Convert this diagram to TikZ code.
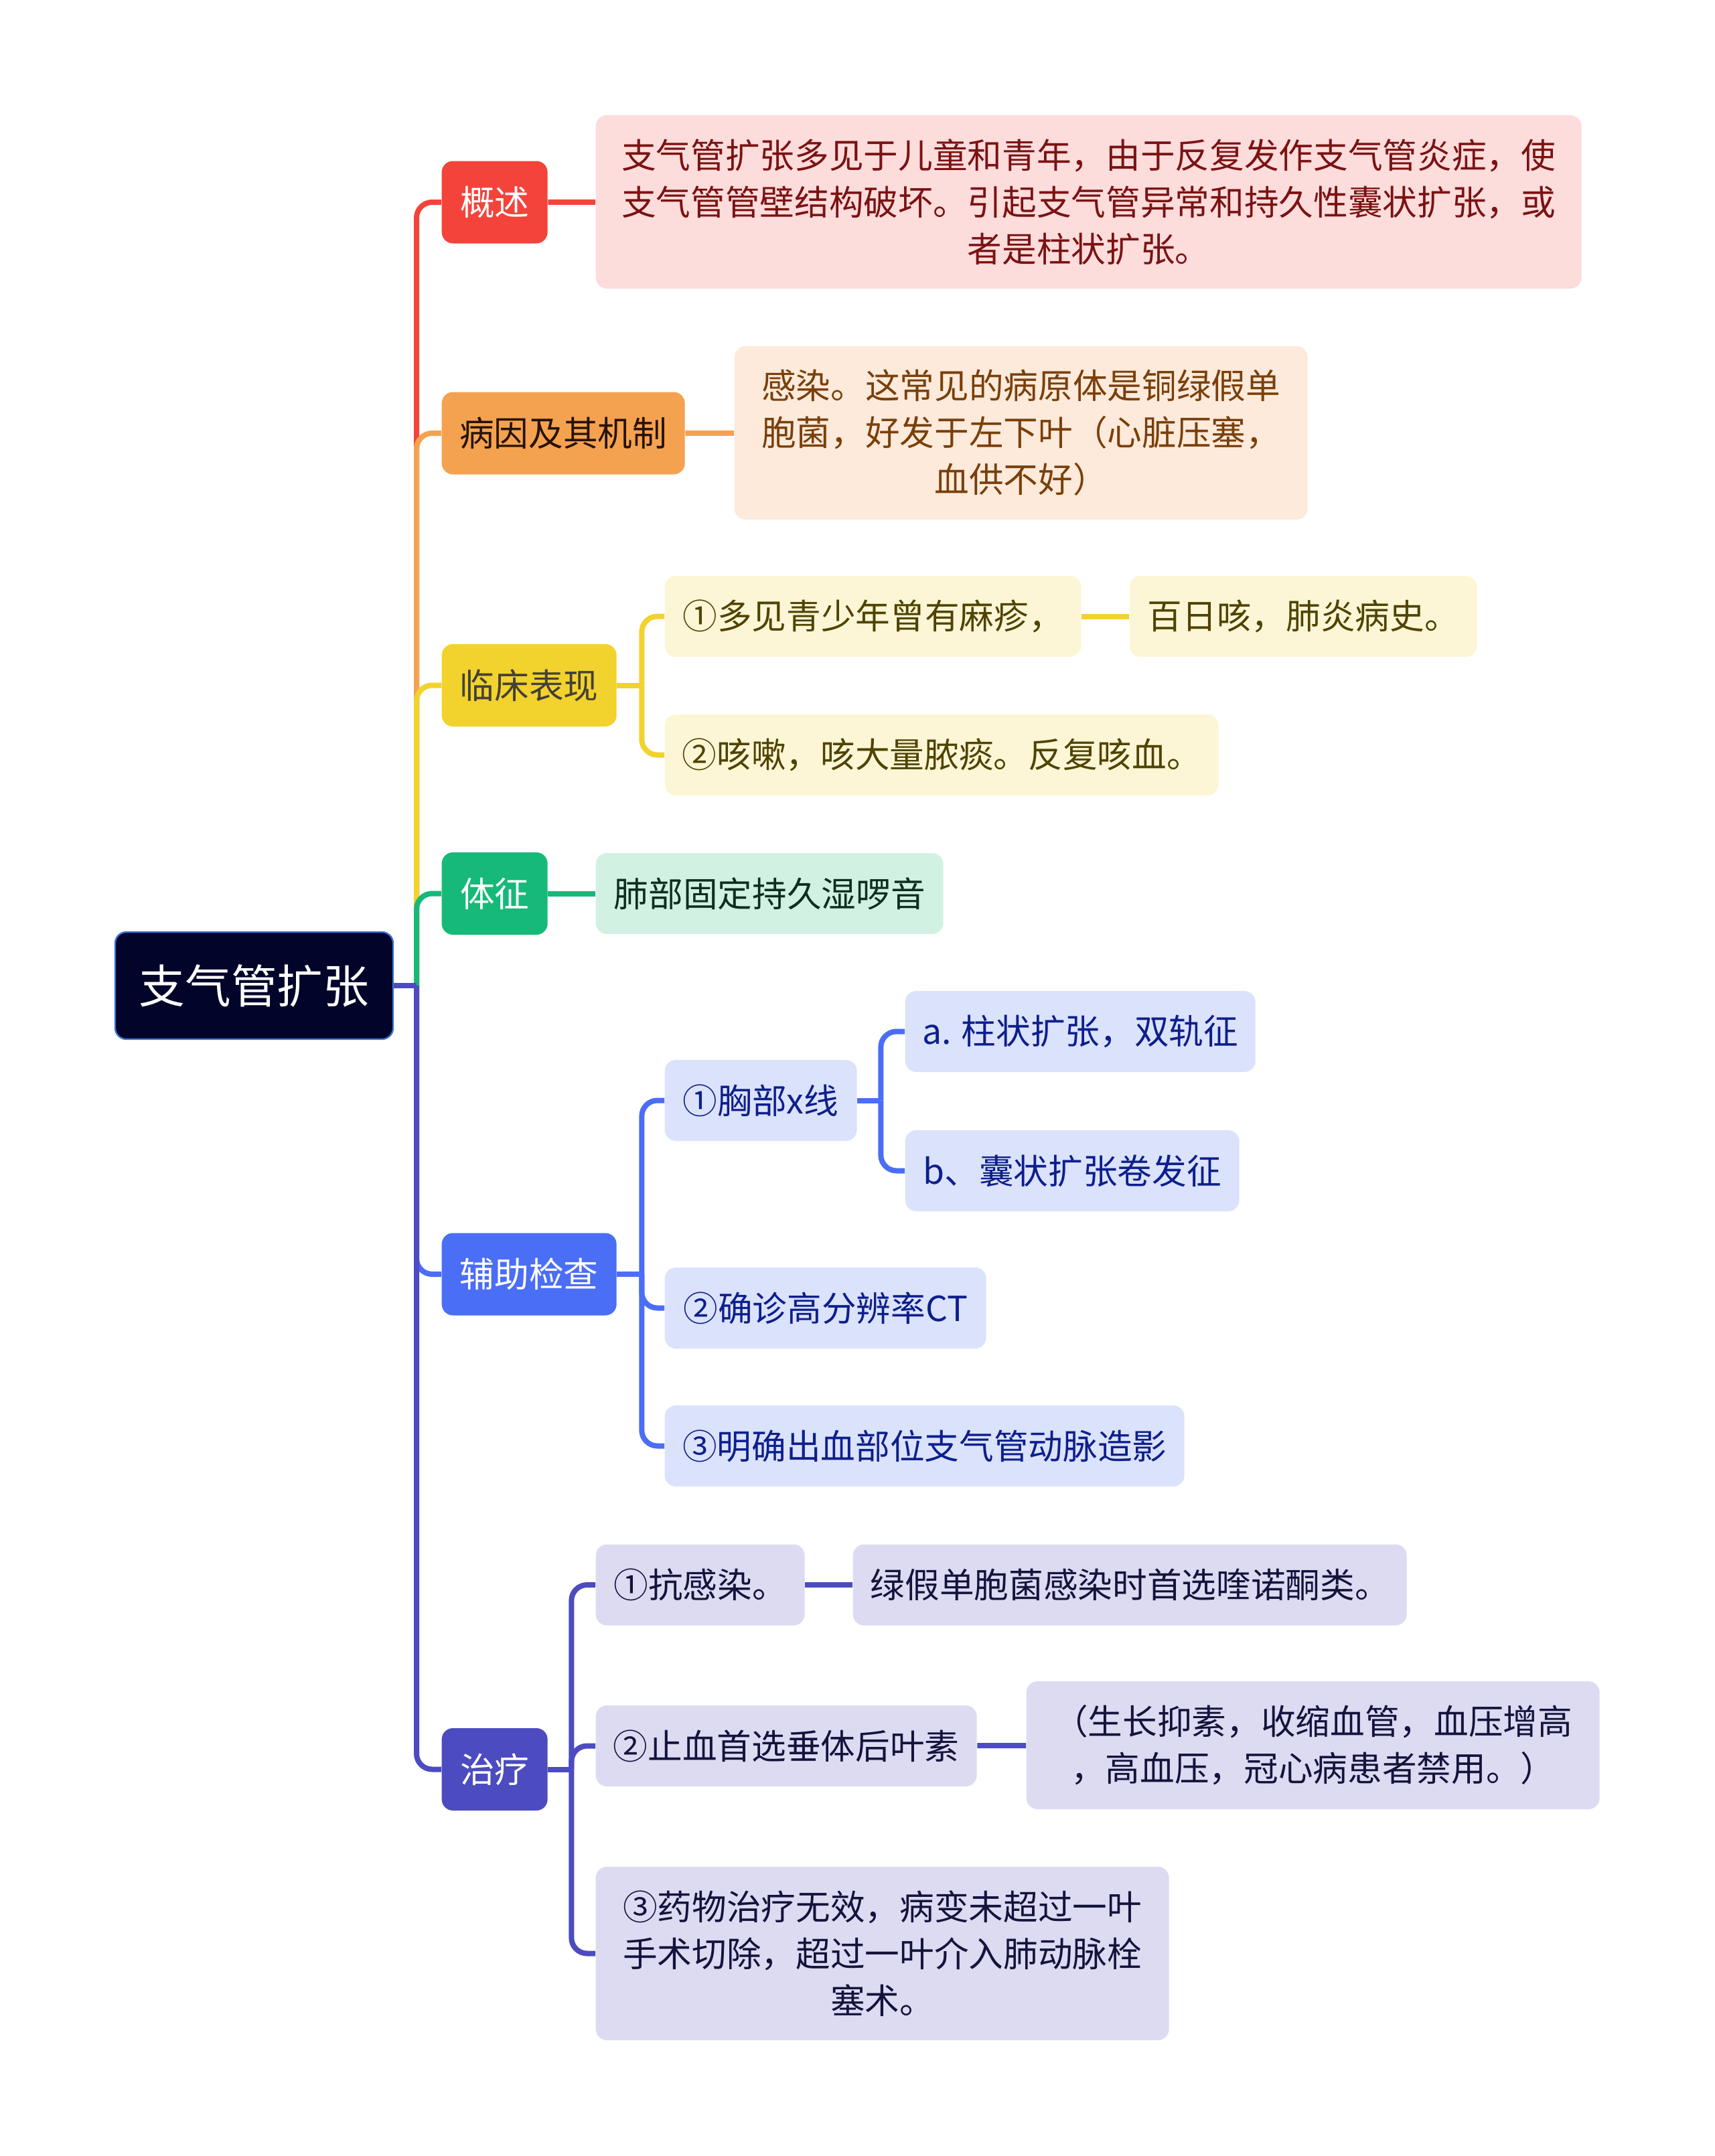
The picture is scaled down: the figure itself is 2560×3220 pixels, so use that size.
\documentclass[tikz,border=0pt]{standalone}
\usepackage{fontspec}
\usetikzlibrary{positioning,calc}
\newfontfamily\cjk{Noto Sans CJK SC}
\definecolor{rootfill}{HTML}{02042A}
\definecolor{rootline}{HTML}{3C73D6}
\definecolor{cred}{HTML}{F4433B}
\definecolor{lred}{HTML}{FDDCDC}
\definecolor{tred}{HTML}{7B1212}
\definecolor{corange}{HTML}{F5A250}
\definecolor{lorange}{HTML}{FDEADB}
\definecolor{torange}{HTML}{7A3F0A}
\definecolor{cyellow}{HTML}{F2D22C}
\definecolor{lyellow}{HTML}{FDF6D6}
\definecolor{tyellow}{HTML}{4F4300}
\definecolor{cgreen}{HTML}{16B978}
\definecolor{lgreen}{HTML}{D1F2E3}
\definecolor{tgreen}{HTML}{0F2E20}
\definecolor{cblue}{HTML}{4B6EF6}
\definecolor{lblue}{HTML}{DBE2FB}
\definecolor{tblue}{HTML}{0D1F8C}
\definecolor{cindigo}{HTML}{4C4BC0}
\definecolor{lindigo}{HTML}{DCDBF2}
\definecolor{tindigo}{HTML}{14133C}
\tikzset{
rootbox/.style={draw=rootline,line width=0.7pt,fill=rootfill,text=white,rounded corners=5pt,minimum width=124.5pt,minimum height=48pt,inner sep=0pt,font={\cjk\fontsize{20.6}{24}\selectfont}},
topic/.style={rounded corners=5pt,minimum height=36.9pt,inner sep=0pt,anchor=west,font={\cjk\fontsize{15.5}{21}\selectfont}},
leaf/.style={rounded corners=5pt,minimum height=36.3pt,inner sep=0pt,anchor=west,align=center,font={\cjk\fontsize{15.5}{21}\selectfont}},
link/.style={line width=2.4pt,rounded corners=7pt}
}
\begin{document}
\begin{tikzpicture}[x=0.3pt,y=-0.3pt]
\useasboundingbox (0,0) rectangle (2560,3220);
\node[rootbox](root) at (379.5,1472){支气管扩张};
\coordinate (hub) at (622,1472);
\node[topic,fill=cred,text=white,minimum width=47.4pt](gaishu) at (659,302){概述};
\node[topic,fill=corange,text=black!85!orange,minimum width=108.9pt](bingyin) at (659,647){病因及其机制};
\node[topic,fill=cyellow,text=black!85!yellow,minimum width=78.3pt](linchuang) at (659,1023.5){临床表现};
\node[topic,fill=cgreen,text=white,minimum width=47.4pt](tizheng) at (659,1334.5){体征};
\node[topic,fill=cblue,text=white,minimum width=78.3pt](fuzhu) at (659,1903){辅助检查};
\node[topic,fill=cindigo,text=white,minimum width=47.4pt](zhiliao) at (659,2642.5){治疗};
\node[leaf,fill=lred,text=tred,minimum width=441.6pt,minimum height=77.7pt](gsText) at (889,301.5){支气管扩张多见于儿童和青年，由于反复发作支气管炎症，使\\支气管管壁结构破坏。引起支气管异常和持久性囊状扩张，或\\者是柱状扩张。};
\node[leaf,fill=lorange,text=torange,minimum width=256.8pt,minimum height=77.7pt](byText) at (1096,646.5){感染。这常见的病原体是铜绿假单\\胞菌，好发于左下叶（心脏压塞，\\血供不好）};
\node[leaf,fill=lyellow,text=tyellow,minimum width=186.6pt](lcOne) at (992,920.5){①多见青少年曾有麻疹，};
\node[leaf,fill=lyellow,text=tyellow,minimum width=155.7pt](lcOneA) at (1686,920.5){百日咳，肺炎病史。};
\node[leaf,fill=lyellow,text=tyellow,minimum width=248.1pt](lcTwo) at (992,1127.5){②咳嗽，咳大量脓痰。反复咳血。};
\node[leaf,fill=lgreen,text=tgreen,minimum width=155.7pt](tzOne) at (889,1334.5){肺部固定持久湿啰音};
\node[leaf,fill=lblue,text=tblue,minimum width=86.1pt](fzOne) at (992,1643.5){①胸部x线};
\node[leaf,fill=lblue,text=tblue,minimum width=156.9pt](fzOneA) at (1351,1540.5){a. 柱状扩张，双轨征};
\node[leaf,fill=lblue,text=tblue,minimum width=149.7pt](fzOneB) at (1351,1748.5){b、囊状扩张卷发征};
\node[leaf,fill=lblue,text=tblue,minimum width=144pt](fzTwo) at (992,1953.5){②确诊高分辨率CT};
\node[leaf,fill=lblue,text=tblue,minimum width=232.8pt](fzThree) at (992,2159.5){③明确出血部位支气管动脉造影};
\node[leaf,fill=lindigo,text=tindigo,minimum width=93.6pt](zlOne) at (889,2367){①抗感染。};
\node[leaf,fill=lindigo,text=tindigo,minimum width=248.1pt](zlOneA) at (1273,2367){绿假单胞菌感染时首选喹诺酮类。};
\node[leaf,fill=lindigo,text=tindigo,minimum width=170.7pt](zlTwo) at (889,2607.5){②止血首选垂体后叶素};
\node[leaf,fill=lindigo,text=tindigo,minimum width=256.8pt,minimum height=57.3pt](zlTwoA) at (1532,2606.5){（生长抑素，收缩血管，血压增高\\，高血压，冠心病患者禁用。）};
\node[leaf,fill=lindigo,text=tindigo,minimum width=256.8pt,minimum height=77.7pt](zlThree) at (889,2917.5){③药物治疗无效，病变未超过一叶\\手术切除，超过一叶介入肺动脉栓\\塞术。};
\draw[link,cred](hub)|-(gaishu.west);\draw[link,corange](hub)|-(bingyin.west);\draw[link,cyellow](hub)|-(linchuang.west);\draw[link,cgreen](hub)|-(tizheng.west);
\draw[link,cblue](hub)|-(fuzhu.west);\draw[link,cindigo](hub)|-(zhiliao.west);\draw[link,cindigo](root.east)--(hub);
\draw[link,cred](gaishu)--(gsText);\draw[link,corange](bingyin)--(byText);\draw[link,cgreen](tizheng)--(tzOne);
\draw[link,cyellow](linchuang.east)--++(37,0)coordinate(lcFork);\draw[link,cyellow](lcFork)|-(lcOne.west);\draw[link,cyellow](lcFork)|-(lcTwo.west);\draw[link,cyellow](lcOne)--(lcOneA);
\draw[link,cblue](fuzhu.east)--++(37,0)coordinate(fzFork);\draw[link,cblue](fzFork)|-(fzOne.west);\draw[link,cblue](fzFork)|-(fzTwo.west);\draw[link,cblue](fzFork)|-(fzThree.west);
\draw[link,cblue](fzOne.east)--++(35,0)coordinate(xFork);\draw[link,cblue](xFork)|-(fzOneA.west);\draw[link,cblue](xFork)|-(fzOneB.west);
\draw[link,cindigo](zhiliao.east)--++(35,0)coordinate(zlFork);\draw[link,cindigo](zlFork)|-(zlOne.west);\draw[link,cindigo](zlFork)|-(zlTwo.west);\draw[link,cindigo](zlFork)|-(zlThree.west);
\draw[link,cindigo](zlOne)--(zlOneA);\draw[link,cindigo](zlTwo)--(zlTwoA);
\end{tikzpicture}
\end{document}
